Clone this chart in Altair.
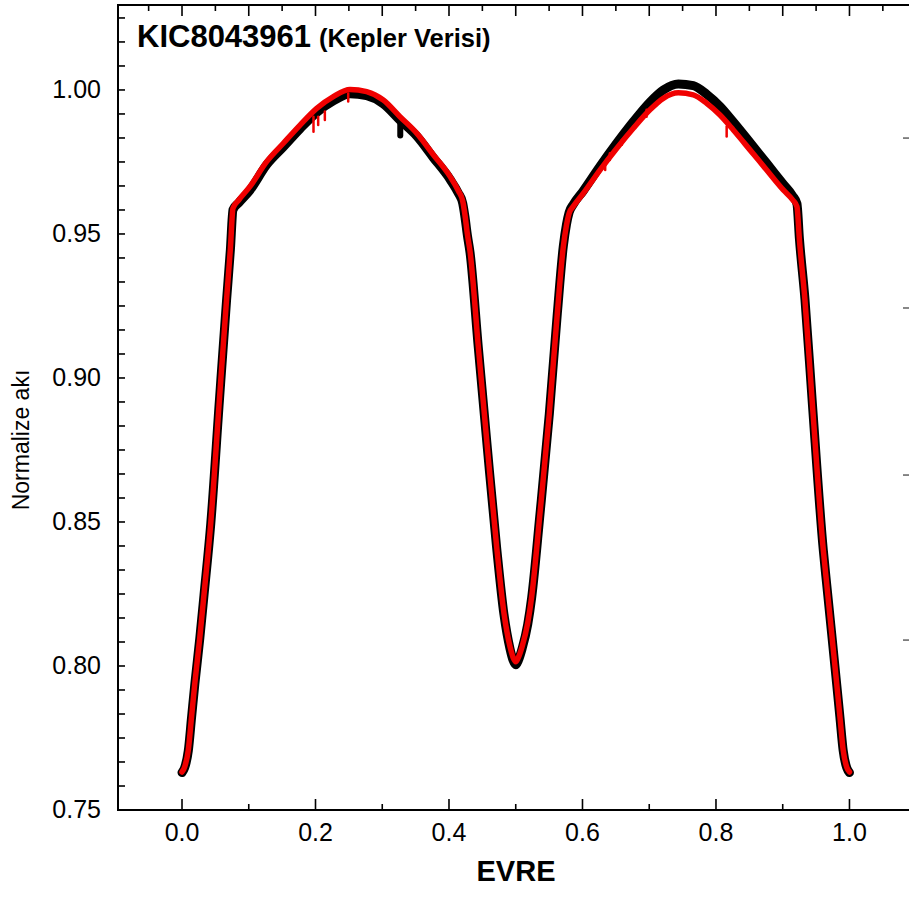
import altair as alt
import pandas as pd

# ---------------- data ----------------
red_phase = [0.000, 0.004, 0.0094, 0.0143, 0.0192, 0.0267, 0.0330, 0.0432, 0.056, 0.0667, 0.0725, 0.0764,
             0.0850, 0.1019, 0.1268, 0.1518, 0.1768, 0.2018, 0.2267, 0.2517, 0.2767, 0.3016, 0.3266,
             0.3516, 0.3766, 0.4015, 0.414, 0.4205, 0.424,
             0.4275, 0.4315, 0.4439, 0.4574, 0.4714, 0.4824, 0.4914, 0.496, 0.500, 0.504, 0.5095,
             0.5180, 0.5239, 0.5363, 0.5503, 0.5623, 0.5713, 0.5760, 0.5800,
             0.5860, 0.6012, 0.6262, 0.6512, 0.6762, 0.7011, 0.7211, 0.7436, 0.766, 0.786, 0.806,
             0.826, 0.8509, 0.8759, 0.9008, 0.9150, 0.9213,
             0.9250, 0.9333, 0.944, 0.9608, 0.9658, 0.9733, 0.9808, 0.9857, 0.9906, 0.996, 1.000]
red_flux = [0.7632, 0.7650, 0.7708, 0.7824, 0.7940, 0.8100, 0.8250, 0.8500, 0.8924, 0.9271, 0.9450, 0.9590,
            0.9618, 0.9665, 0.9751, 0.9815, 0.9878, 0.9936, 0.9977, 1.0002, 0.9994, 0.9965, 0.9907,
            0.9850, 0.9775, 0.9700, 0.9650, 0.9615, 0.9565,
            0.9500, 0.9440, 0.9109, 0.8761, 0.8414, 0.8183, 0.8067, 0.8030, 0.8015, 0.8030, 0.8067,
            0.8150, 0.8241, 0.8530, 0.8877, 0.9225, 0.9456, 0.9530, 0.9572,
            0.9595, 0.9641, 0.9722, 0.9797, 0.9867, 0.9931, 0.9971, 0.9990, 0.9983, 0.9954, 0.9913,
            0.9861, 0.9792, 0.9722, 0.9653, 0.9618, 0.9595,
            0.9480, 0.9271, 0.8924, 0.8403, 0.8287, 0.8115, 0.7940, 0.7824, 0.7708, 0.7648, 0.7632]

black_phase = list(red_phase)
black_flux = [0.7630, 0.7647, 0.7705, 0.7821, 0.7937, 0.8097, 0.8247, 0.8497, 0.8921, 0.9268, 0.9446, 0.9584,
              0.9608, 0.9652, 0.9740, 0.9802, 0.9865, 0.9922, 0.9962, 0.9987, 0.9980, 0.9952, 0.9895,
              0.9840, 0.9765, 0.9690, 0.9642, 0.9607, 0.9558,
              0.9496, 0.9436, 0.9106, 0.8758, 0.8410, 0.8178, 0.8060, 0.8020, 0.8004, 0.8020, 0.8060,
              0.8145, 0.8238, 0.8527, 0.8875, 0.9224, 0.9458, 0.9533, 0.9575,
              0.9602, 0.9650, 0.9735, 0.9815, 0.9890, 0.9958, 1.0000, 1.0021, 1.0015, 0.9985, 0.9943,
              0.9889, 0.9818, 0.9746, 0.9673, 0.9632, 0.9605,
              0.9484, 0.9274, 0.8925, 0.8402, 0.8285, 0.8113, 0.7938, 0.7822, 0.7706, 0.7646, 0.7630]

red_spike_phase = [0.197, 0.204, 0.214, 0.249, 0.634, 0.641, 0.659, 0.696, 0.816]
red_spike_top = [0.9907, 0.9907, 0.9925, 0.9988, 0.9745, 0.9780, 0.9826, 0.9931, 0.9873]
red_spike_bottom = [0.9855, 0.9878, 0.9896, 0.9960, 0.9722, 0.9757, 0.9810, 0.9907, 0.9838]

black_spike_phase = [0.327]
black_spike_top = [0.9880]
black_spike_bottom = [0.9842]

x_labels = [0.0, 0.2, 0.4, 0.6, 0.8, 1.0]
x_minor = [0.1, 0.3, 0.5, 0.7, 0.9]
top_long = [0.0, 0.1, 0.2, 0.3, 0.4, 0.5, 0.6, 0.7, 0.8, 0.9, 1.0]
top_short = [-0.05, 0.05, 0.15, 0.25, 0.35, 0.45, 0.55, 0.65, 0.75, 0.85, 0.95, 1.05]
y_labels = [0.75, 0.80, 0.85, 0.90, 0.95, 1.00]
y_ticks = [round(0.75 + k / 120, 5) for k in range(34)]
right_marks = [0.9833, 0.9243, 0.8663, 0.8090]

title_main = "KIC8043961"
title_sub = "(Kepler Verisi)"
x_title = "EVRE"
y_title = "Normalize akı"

# ---------------- layout ----------------
W, H = 785, 805
FONT = "Liberation Sans"
RED = "#f00000"

xs = alt.Scale(domain=[-0.0959, 1.0802], nice=False, zero=False)
ys = alt.Scale(domain=[0.75, 1.0295], nice=False, zero=False)


def X(field):
    return alt.X(field, type="quantitative", scale=xs, axis=None)


def Y(field):
    return alt.Y(field, type="quantitative", scale=ys, axis=None)


df_black = pd.DataFrame({"phase": black_phase, "flux": black_flux})
df_red = pd.DataFrame({"phase": red_phase, "flux": red_flux})
df_rs = pd.DataFrame({"phase": red_spike_phase, "top": red_spike_top, "bottom": red_spike_bottom})
df_bs = pd.DataFrame({"phase": black_spike_phase, "top": black_spike_top, "bottom": black_spike_bottom})

black_line = alt.Chart(df_black).mark_line(
    color="black", strokeWidth=9, strokeCap="round", strokeJoin="round", interpolate="monotone"
).encode(x=X("phase"), y=Y("flux"))

black_sp = alt.Chart(df_bs).mark_rule(color="black", strokeWidth=6, strokeCap="round").encode(
    x=X("phase"), y=Y("top"), y2="bottom")

red_line = alt.Chart(df_red).mark_line(
    color=RED, strokeWidth=5.5, strokeCap="round", strokeJoin="round", interpolate="monotone"
).encode(x=X("phase"), y=Y("flux"))

red_sp = alt.Chart(df_rs).mark_rule(color=RED, strokeWidth=2.5, strokeCap="round").encode(
    x=X("phase"), y=Y("top"), y2="bottom")

TC = "black"
TW = 1.6
one = pd.DataFrame({"a": [0]})

# frame (drawn as rules; the white one hides the default light view edge on the right)
right_mask = alt.Chart(one).mark_rule(color="white", strokeWidth=3).encode(
    x=alt.value(W), y=alt.value(0), y2=alt.value(H))
left_dom = alt.Chart(one).mark_rule(color="black", strokeWidth=2).encode(
    x=alt.value(0), y=alt.value(0), y2=alt.value(H + 1))
bot_dom = alt.Chart(one).mark_rule(color="black", strokeWidth=2).encode(
    x=alt.value(-1), x2=alt.value(W + 6), y=alt.value(H))
top_dom = alt.Chart(one).mark_rule(color="black", strokeWidth=2).encode(
    x=alt.value(-1), x2=alt.value(W + 6), y=alt.value(0))

bot_major = alt.Chart(pd.DataFrame({"v": x_labels})).mark_rule(color=TC, strokeWidth=TW).encode(
    x=X("v"), y=alt.value(H), y2=alt.value(H - 11))
bot_minor = alt.Chart(pd.DataFrame({"v": x_minor})).mark_rule(color=TC, strokeWidth=TW).encode(
    x=X("v"), y=alt.value(H), y2=alt.value(H - 6))
top_l = alt.Chart(pd.DataFrame({"v": top_long})).mark_rule(color=TC, strokeWidth=TW).encode(
    x=X("v"), y=alt.value(0), y2=alt.value(11))
top_s = alt.Chart(pd.DataFrame({"v": top_short})).mark_rule(color=TC, strokeWidth=TW).encode(
    x=X("v"), y=alt.value(0), y2=alt.value(6))
left_t = alt.Chart(pd.DataFrame({"v": y_ticks})).mark_rule(color=TC, strokeWidth=TW).encode(
    y=Y("v"), x=alt.value(0), x2=alt.value(7))
right_t = alt.Chart(pd.DataFrame({"v": right_marks})).mark_rule(color="#555555", strokeWidth=1.4).encode(
    y=Y("v"), x=alt.value(W), x2=alt.value(W + 6))

# tick labels and axis titles
x_lab = alt.Chart(pd.DataFrame({"v": x_labels})).mark_text(
    font=FONT, fontSize=25, color="black", align="center", baseline="middle"
).encode(x=X("v"), y=alt.value(H + 23), text=alt.Text("v:Q", format=".1f"))
y_lab = alt.Chart(pd.DataFrame({"v": y_labels})).mark_text(
    font=FONT, fontSize=25, color="black", align="right", baseline="middle"
).encode(y=Y("v"), x=alt.value(-17), text=alt.Text("v:Q", format=".2f"))
x_tit = alt.Chart(pd.DataFrame({"t": [x_title]})).mark_text(
    font=FONT, fontSize=29, fontWeight="bold", color="black", align="center", baseline="middle"
).encode(text="t:N", x=alt.value(398), y=alt.value(867))
y_tit = alt.Chart(pd.DataFrame({"t": [y_title]})).mark_text(
    font=FONT, fontSize=23, color="black", align="center", baseline="middle", angle=270
).encode(text="t:N", x=alt.value(-96), y=alt.value(435))

t1 = alt.Chart(pd.DataFrame({"t": [title_main]})).mark_text(
    font=FONT, fontSize=31, fontWeight="bold", align="left", baseline="alphabetic", color="black"
).encode(text="t:N", x=alt.value(19), y=alt.value(42))
t2 = alt.Chart(pd.DataFrame({"t": [title_sub]})).mark_text(
    font=FONT, fontSize=25.5, fontWeight="bold", align="left", baseline="alphabetic", color="black"
).encode(text="t:N", x=alt.value(201), y=alt.value(42))

chart = alt.layer(
    right_mask, black_line, black_sp, red_line, red_sp,
    left_dom, bot_dom, top_dom,
    bot_major, bot_minor, top_l, top_s, left_t, right_t,
    x_lab, y_lab, x_tit, y_tit, t1, t2
).properties(
    width=W, height=H,
    autosize=alt.AutoSizeParams(type="none"),
    padding={"left": 118, "top": 5, "right": 6, "bottom": 91},
).configure(background="white")

chart.save("out.html", embed_options={"renderer": "svg", "actions": False})
